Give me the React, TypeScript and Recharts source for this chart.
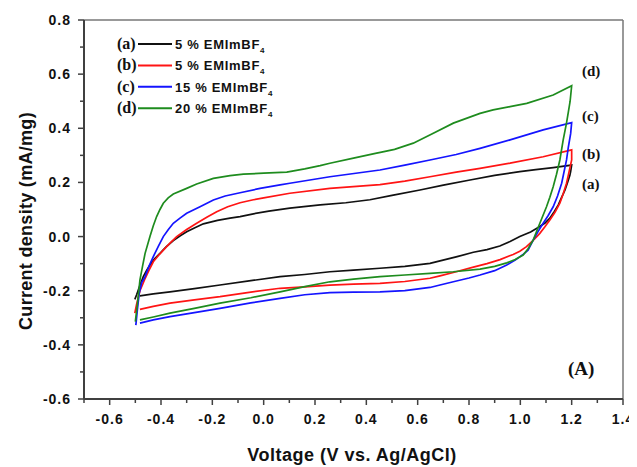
import React from 'react';
import { LineChart, Line, XAxis, YAxis, ReferenceLine, Legend } from 'recharts';

// cyclic voltammograms, [voltage, current density] in scan order
const loopA: number[][] = [
  [-0.502, -0.232], [-0.495, -0.215], [-0.482, -0.18], [-0.469, -0.148], [-0.456, -0.125], [-0.443, -0.105],
  [-0.425, -0.082], [-0.404, -0.062], [-0.38, -0.038], [-0.352, -0.015], [-0.325, 0.003], [-0.3, 0.018],
  [-0.27, 0.032], [-0.235, 0.047], [-0.18, 0.06], [-0.131, 0.068], [-0.092, 0.074], [-0.04, 0.084],
  [0.02, 0.094], [0.102, 0.105], [0.22, 0.117], [0.32, 0.125], [0.414, 0.136], [0.5, 0.152], [0.609, 0.172],
  [0.7, 0.19], [0.804, 0.209], [0.9, 0.226], [0.998, 0.24], [1.06, 0.247], [1.128, 0.255], [1.2, 0.264],
  [1.196, 0.24], [1.193, 0.226], [1.184, 0.2], [1.174, 0.172], [1.16, 0.143], [1.148, 0.117], [1.132, 0.092],
  [1.115, 0.068], [1.096, 0.05], [1.076, 0.037], [1.04, 0.017], [0.998, 0.0], [0.96, -0.018], [0.92, -0.035],
  [0.87, -0.048], [0.817, -0.058], [0.75, -0.075], [0.687, -0.09], [0.648, -0.099], [0.55, -0.11],
  [0.453, -0.117], [0.35, -0.124], [0.258, -0.13], [0.16, -0.14], [0.064, -0.148], [-0.05, -0.163],
  [-0.17, -0.179], [-0.27, -0.192], [-0.365, -0.204], [-0.43, -0.212], [-0.482, -0.219],
];

const loopB: number[][] = [
  [-0.502, -0.283], [-0.495, -0.25], [-0.482, -0.2], [-0.472, -0.178], [-0.462, -0.155], [-0.447, -0.125],
  [-0.43, -0.093], [-0.41, -0.07], [-0.391, -0.05], [-0.365, -0.024], [-0.339, 0.0], [-0.3, 0.026],
  [-0.261, 0.049], [-0.22, 0.072], [-0.183, 0.092], [-0.14, 0.11], [-0.092, 0.125], [-0.04, 0.136],
  [0.0, 0.143], [0.102, 0.16], [0.258, 0.178], [0.453, 0.192], [0.55, 0.205], [0.648, 0.221], [0.75, 0.238],
  [0.843, 0.252], [0.96, 0.271], [1.089, 0.295], [1.2, 0.32],
  [1.2, 0.283], [1.19, 0.24], [1.18, 0.197], [1.167, 0.158], [1.154, 0.123], [1.135, 0.09], [1.115, 0.061],
  [1.095, 0.035], [1.076, 0.012], [1.05, -0.014], [1.024, -0.037], [0.998, -0.054], [0.972, -0.066],
  [0.921, -0.085], [0.87, -0.1], [0.817, -0.113], [0.75, -0.13], [0.687, -0.145], [0.648, -0.154],
  [0.55, -0.166], [0.453, -0.173], [0.35, -0.176], [0.258, -0.179], [0.16, -0.186], [0.064, -0.191],
  [-0.05, -0.205], [-0.17, -0.222], [-0.27, -0.234], [-0.365, -0.246], [-0.43, -0.258], [-0.482, -0.269],
];

const loopC: number[][] = [
  [-0.498, -0.327], [-0.492, -0.27], [-0.485, -0.21], [-0.475, -0.17], [-0.462, -0.148], [-0.447, -0.11],
  [-0.43, -0.074], [-0.41, -0.035], [-0.391, 0.0], [-0.372, 0.025], [-0.352, 0.049], [-0.326, 0.068],
  [-0.3, 0.086], [-0.248, 0.11], [-0.196, 0.135], [-0.15, 0.15], [-0.092, 0.162], [-0.014, 0.178],
  [0.064, 0.191], [0.102, 0.197], [0.258, 0.221], [0.453, 0.246], [0.55, 0.264], [0.648, 0.283],
  [0.75, 0.303], [0.843, 0.326], [0.96, 0.357], [1.089, 0.394], [1.2, 0.421],
  [1.196, 0.38], [1.187, 0.33], [1.18, 0.283], [1.161, 0.197], [1.145, 0.15], [1.128, 0.11], [1.108, 0.077],
  [1.089, 0.049], [1.07, 0.02], [1.05, -0.013], [1.03, -0.05], [1.011, -0.066], [0.98, -0.087],
  [0.947, -0.105], [0.9, -0.126], [0.843, -0.142], [0.8, -0.153], [0.739, -0.167], [0.687, -0.179],
  [0.648, -0.188], [0.55, -0.2], [0.453, -0.204], [0.35, -0.205], [0.258, -0.207], [0.16, -0.215],
  [0.064, -0.228], [-0.05, -0.245], [-0.17, -0.265], [-0.27, -0.281], [-0.365, -0.296], [-0.43, -0.308],
  [-0.482, -0.32],
];

const loopD: number[][] = [
  [-0.5, -0.314], [-0.492, -0.25], [-0.482, -0.16], [-0.472, -0.11], [-0.462, -0.062], [-0.443, 0.0],
  [-0.43, 0.04], [-0.417, 0.074], [-0.404, 0.1], [-0.391, 0.123], [-0.372, 0.143], [-0.352, 0.157],
  [-0.3, 0.178], [-0.261, 0.194], [-0.196, 0.215], [-0.131, 0.225], [-0.079, 0.231], [0.0, 0.234],
  [0.09, 0.238], [0.16, 0.25], [0.22, 0.262], [0.258, 0.271], [0.35, 0.29], [0.44, 0.308], [0.45, 0.31],
  [0.51, 0.322], [0.583, 0.345], [0.661, 0.382], [0.739, 0.419], [0.843, 0.455], [0.894, 0.468],
  [0.96, 0.48], [1.025, 0.492], [1.128, 0.523], [1.2, 0.557],
  [1.194, 0.5], [1.187, 0.46], [1.18, 0.42], [1.167, 0.357], [1.154, 0.283], [1.141, 0.23], [1.128, 0.184],
  [1.115, 0.145], [1.102, 0.11], [1.076, 0.049], [1.05, -0.013], [1.03, -0.045], [1.011, -0.068],
  [0.98, -0.085], [0.947, -0.097], [0.9, -0.11], [0.843, -0.12], [0.739, -0.13], [0.648, -0.136],
  [0.55, -0.142], [0.453, -0.148], [0.35, -0.157], [0.258, -0.167], [0.16, -0.185], [0.064, -0.204],
  [-0.05, -0.226], [-0.17, -0.246], [-0.27, -0.265], [-0.365, -0.283], [-0.43, -0.297], [-0.482, -0.308],
];

const tags = ['(a)', '(b)', '(c)', '(d)'];
const percents = ['5 %', '5 %', '15 %', '20 %'];
const colors = ['#111111', '#ff1414', '#1414ff', '#1e8c1e'];
const loops = [loopA, loopB, loopC, loopD];

const xTicks = [-0.7, -0.6, -0.5, -0.4, -0.3, -0.2, -0.1, 0, 0.1, 0.2, 0.3, 0.4, 0.5, 0.6, 0.7, 0.8, 0.9, 1.0, 1.1, 1.2, 1.3, 1.4];
const yTicks = [-0.6, -0.5, -0.4, -0.3, -0.2, -0.1, 0, 0.1, 0.2, 0.3, 0.4, 0.5, 0.6, 0.7, 0.8];

const axisColor = '#404040';
const sans = 'Liberation Sans, Arial, sans-serif';
const serif = 'Liberation Serif, Times New Roman, serif';

const isMajor = (v: number) => Math.abs(Math.round(v * 10)) % 2 === 0;

const XTick = (props: any) => {
  const { x, y, payload } = props;
  const major = isMajor(payload.value);
  return (
    <g>
      <line x1={x} x2={x} y1={y} y2={y + (major ? 6 : 4)} stroke={axisColor} strokeWidth={1.5} />
      {major && (
        <text x={x} y={y + 25} textAnchor="middle" fontFamily={sans} fontWeight="bold" fontSize={14} letterSpacing={1} fill="#111">
          {payload.value.toFixed(1)}
        </text>
      )}
    </g>
  );
};

const YTick = (props: any) => {
  const { x, y, payload } = props;
  const major = isMajor(payload.value);
  return (
    <g>
      <line x1={x} x2={x - (major ? 6 : 4)} y1={y} y2={y} stroke={axisColor} strokeWidth={1.5} />
      {major && (
        <text x={x - 13} y={y + 5} textAnchor="end" fontFamily={sans} fontWeight="bold" fontSize={14} letterSpacing={1} fill="#111">
          {payload.value.toFixed(1)}
        </text>
      )}
    </g>
  );
};

const LegendBox = () => (
  <svg width={200} height={90}>
    {tags.map((t, k) => {
      const y = 10 + k * 21.4;
      return (
        <g key={t}>
          <text x={9} y={y + 5} fontFamily={serif} fontWeight="bold" fontSize={16} fill="#111">{t}</text>
          <line x1={30} x2={64} y1={y} y2={y} stroke={colors[k]} strokeWidth={2} />
          <text x={67} y={y + 5} fontFamily={sans} fontWeight="bold" fontSize={13} letterSpacing={0.7} fill="#111">
            {percents[k]} EMImBF
            <tspan fontSize={8} dy={4}>4</tspan>
          </text>
        </g>
      );
    })}
  </svg>
);

const App = () => {
  return (
    <div style={{ position: 'relative', width: 629, height: 459 }}>
      <LineChart width={629} height={459} margin={{ top: 12, right: 14, left: 16, bottom: 5 }}>
        <XAxis
          dataKey="v"
          type="number"
          domain={[-0.7, 1.4]}
          ticks={xTicks}
          interval={0}
          height={63}
          tickSize={0}
          tickMargin={0}
          tickLine={false}
          tick={<XTick />}
          stroke={axisColor}
          strokeWidth={2}
          allowDataOverflow
        />
        <YAxis
          dataKey="i"
          type="number"
          domain={[-0.6, 0.8]}
          ticks={yTicks}
          interval={0}
          width={60}
          tickSize={0}
          tickMargin={0}
          tickLine={false}
          tick={<YTick />}
          stroke={axisColor}
          strokeWidth={2}
          allowDataOverflow
        />
        <ReferenceLine y={0.8} stroke="#777" strokeWidth={1.5} />
        <ReferenceLine x={1.4} stroke="#777" strokeWidth={1.5} />
        {loops.map((loop, k) => (
          <Line
            key={tags[k]}
            name={`${tags[k]} ${percents[k]} EMImBF4`}
            data={loop.map(([v, i]) => ({ v, i }))}
            dataKey="i"
            type="linear"
            stroke={colors[k]}
            strokeWidth={1.7}
            dot={false}
            activeDot={false}
            isAnimationActive={false}
          />
        ))}
        <Legend
          layout="vertical"
          align="center"
          verticalAlign="middle"
          content={<LegendBox />}
          wrapperStyle={{ left: 100, top: 26, width: 200, height: 90 }}
        />
      </LineChart>
      <svg width={629} height={459} style={{ position: 'absolute', left: 0, top: 0, pointerEvents: 'none', overflow: 'visible' }}>
        <text x={24} y={213} transform="rotate(-90 24 213)" textAnchor="middle" fontFamily={sans} fontWeight="bold" fontSize={18} letterSpacing={0.3} fill="#111">
          Current density (mA/mg)
        </text>
        <text x={344} y={453} textAnchor="middle" fontFamily={sans} fontWeight="bold" fontSize={18} letterSpacing={0.5} fill="#111">
          Voltage (V vs. Ag/AgCl)
        </text>
        <text x={574} y={68} fontFamily={serif} fontWeight="bold" fontSize={15} fill="#111">(d)</text>
        <text x={574} y={113} fontFamily={serif} fontWeight="bold" fontSize={15} fill="#111">(c)</text>
        <text x={574} y={151} fontFamily={serif} fontWeight="bold" fontSize={15} fill="#111">(b)</text>
        <text x={574} y={181} fontFamily={serif} fontWeight="bold" fontSize={15} fill="#111">(a)</text>
        <text x={560} y={367} fontFamily={serif} fontWeight="bold" fontSize={19} fill="#111">(A)</text>
      </svg>
    </div>
  );
};

export default App;
